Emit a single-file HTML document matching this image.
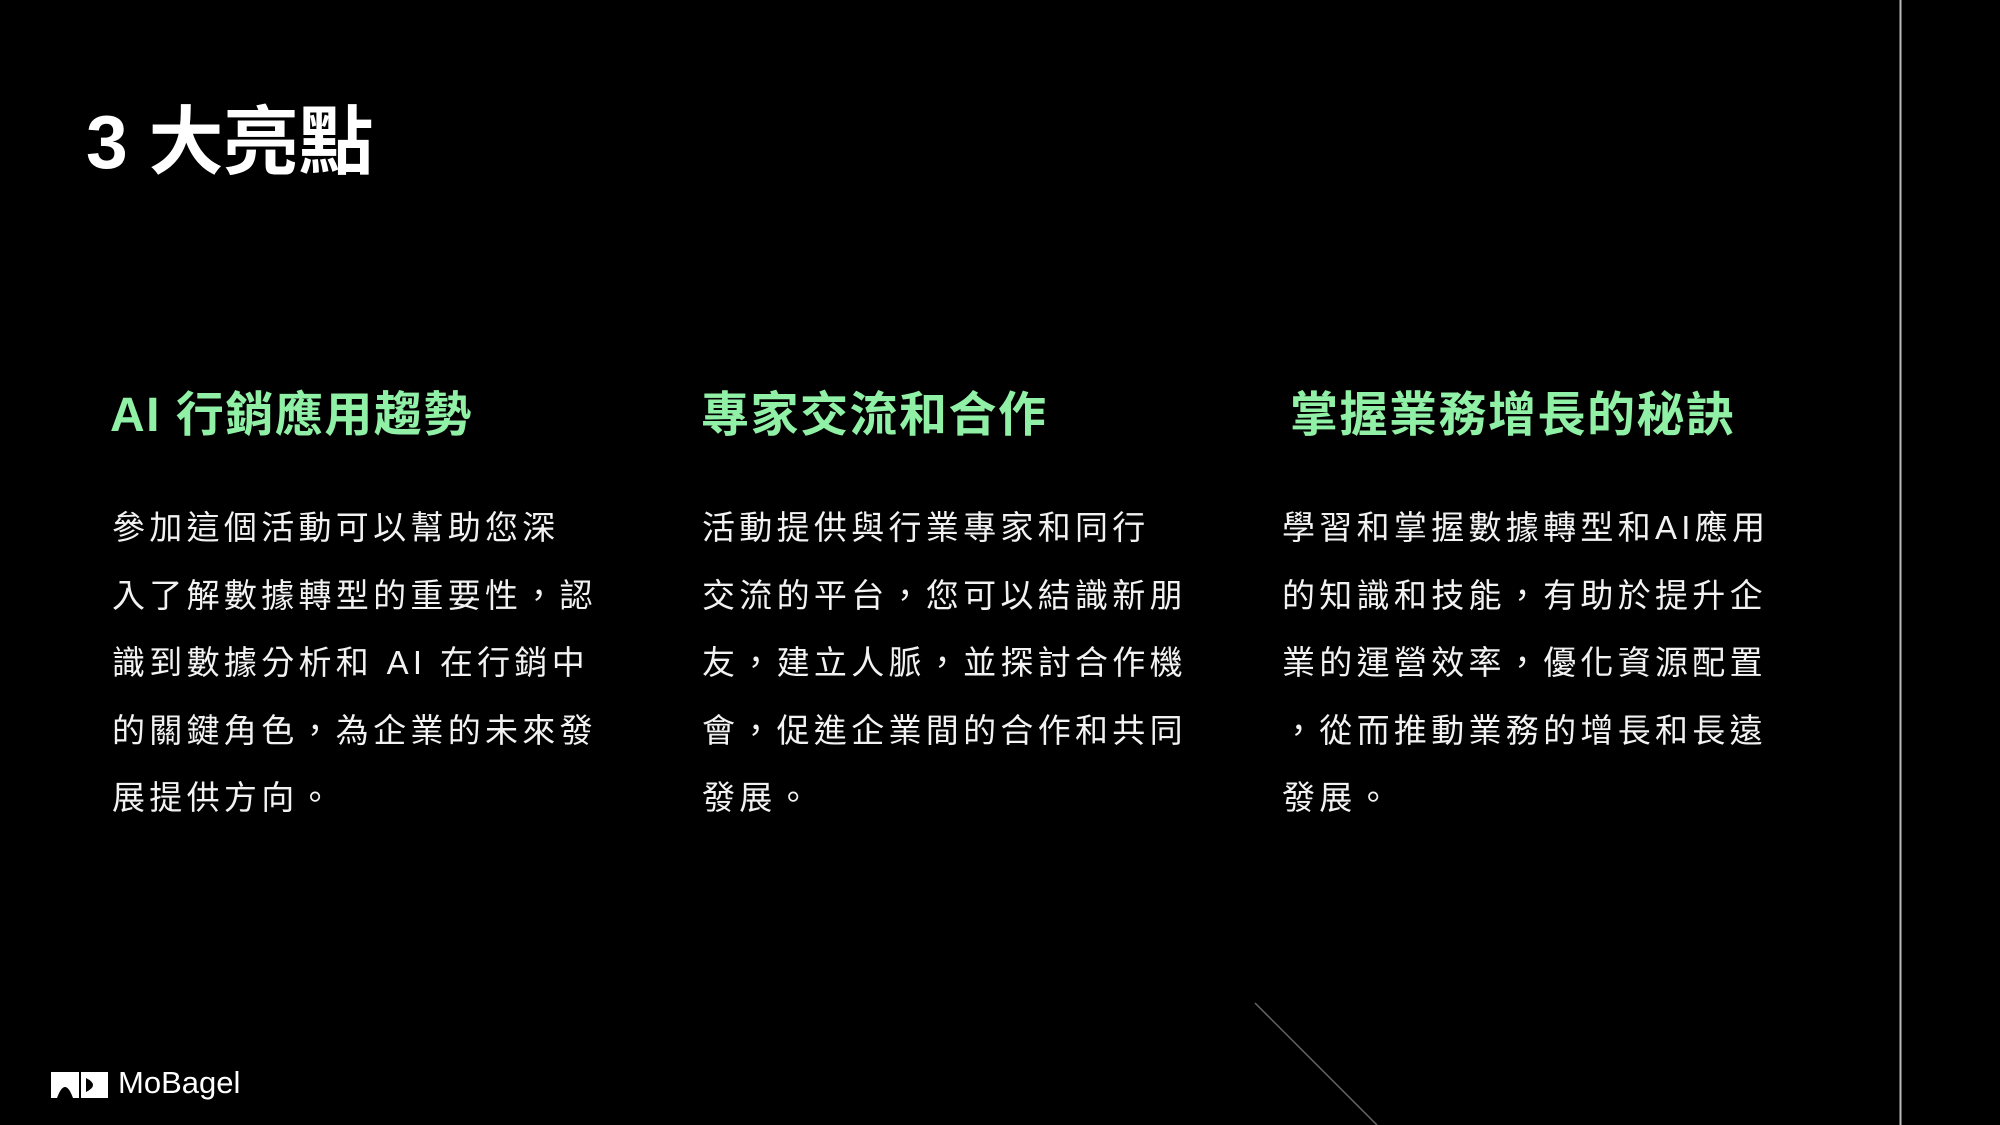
<!DOCTYPE html>
<html><head><meta charset="utf-8"><style>
html,body{margin:0;padding:0;background:#000;}
body{width:2000px;height:1125px;position:relative;overflow:hidden;font-family:"Liberation Sans","Noto Sans CJK TC",sans-serif;color:#fff;}
.t{position:absolute;left:86px;top:92px;font-size:75px;font-weight:bold;line-height:100px;white-space:nowrap;}
.h{position:absolute;top:384px;font-size:48px;font-weight:bold;color:#90f0a6;line-height:64px;white-space:nowrap;letter-spacing:1.5px;}
.b{position:absolute;top:494px;font-size:33px;line-height:67.6px;letter-spacing:4.3px;white-space:nowrap;color:#f2f2f2;}
</style></head><body>
<div class="t">3 大亮點</div>
<div class="h" style="left:110px">AI 行銷應用趨勢</div>
<div class="h" style="left:701px">專家交流和合作</div>
<div class="h" style="left:1290px">掌握業務增長的秘訣</div>
<div class="b" style="left:112px">參加這個活動可以幫助您深<br>入了解數據轉型的重要性，認<br>識到數據分析和 AI 在行銷中<br>的關鍵角色，為企業的未來發<br>展提供方向。</div>
<div class="b" style="left:702px">活動提供與行業專家和同行<br>交流的平台，您可以結識新朋<br>友，建立人脈，並探討合作機<br>會，促進企業間的合作和共同<br>發展。</div>
<div class="b" style="left:1282px">學習和掌握數據轉型和AI應用<br>的知識和技能，有助於提升企<br>業的運營效率，優化資源配置<br>，從而推動業務的增長和長遠<br>發展。</div>
<svg style="position:absolute;left:0;top:0" width="2000" height="1125">
<line x1="1900.5" y1="0" x2="1900.5" y2="1125" stroke="#bbb" stroke-width="2"/>
<line x1="1255" y1="1003" x2="1377" y2="1125" stroke="#666" stroke-width="1.5"/>
<g fill="#fff">
<path d="M51 1072 h28 v26 h-28z M57 1098 q8-22 16 0z" fill-rule="evenodd"/>
<path d="M81 1072 h27 v26 h-27z M86 1078 q14 7 0 14z" fill-rule="evenodd"/>
</g>
<text x="118" y="1093" font-family="Liberation Sans" font-size="31" fill="#fff">MoBagel</text>
</svg>
</body></html>
